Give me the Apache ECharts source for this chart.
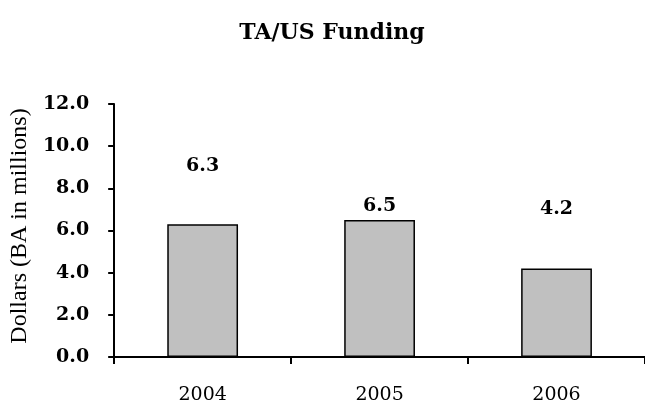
<!DOCTYPE html>
<html>
<head>
<meta charset="utf-8">
<script src="https://cdn.jsdelivr.net/npm/echarts@6/dist/echarts.min.js"></script>
<style>
    html, body { margin: 0; padding: 0; background: #fff; }
    #chart { width: 645px; height: 407px; }
</style>
</head>
<body>
<div id="chart"></div>
<script>
    // data
    var years = ['2004', '2005', '2006'];
    var funding = [6.3, 6.5, 4.2];
    // how far each value label sits above its bar (px)
    var labelGaps = [49, 4, 50];

    var chart = echarts.init(document.getElementById('chart'));

    var barData = funding.map(function (v, i) {
        return { value: v, label: { distance: labelGaps[i] } };
    });

    chart.setOption({
        animation: false,
        backgroundColor: '#fff',
        title: {
            text: 'TA/US Funding',
            left: 327,
            top: 17,
            textAlign: 'center',
            textStyle: {
                fontFamily: 'DejaVu Serif',
                fontWeight: 'bold',
                fontSize: 22,
                color: '#000'
            }
        },
        // the plot runs a little past the right edge, as in the original
        grid: { left: 113, right: -8, top: 104, bottom: 50 },
        xAxis: {
            type: 'category',
            data: years,
            axisLine: { lineStyle: { color: '#000', width: 2 } },
            axisTick: { show: true, length: 7, lineStyle: { color: '#000', width: 2 } },
            axisLabel: {
                margin: 29,
                color: '#000',
                fontFamily: 'DejaVu Serif',
                fontSize: 19
            }
        },
        yAxis: {
            type: 'value',
            min: 0,
            max: 12,
            interval: 2,
            name: 'Dollars (BA in millions)',
            nameLocation: 'middle',
            nameGap: 80,
            nameTextStyle: {
                fontFamily: 'Liberation Serif',
                fontSize: 24,
                color: '#000',
                padding: [0, 0, 0, 9]
            },
            axisLine: { show: true, lineStyle: { color: '#000', width: 2 } },
            axisTick: { show: true, length: 6, lineStyle: { color: '#000', width: 2 } },
            splitLine: { show: false },
            axisLabel: {
                margin: 25,
                color: '#000',
                fontFamily: 'DejaVu Serif',
                fontWeight: 'bold',
                fontSize: 19,
                formatter: function (v) { return v.toFixed(1); }
            }
        },
        series: [{
            type: 'bar',
            data: barData,
            barWidth: '40%',
            itemStyle: { color: '#c0c0c0', borderColor: '#000', borderWidth: 1.5 },
            label: {
                show: true,
                position: 'top',
                color: '#000',
                fontFamily: 'DejaVu Serif',
                fontWeight: 'bold',
                fontSize: 19,
                formatter: function (p) { return p.value.toFixed(1); }
            }
        }]
    });
</script>
</body>
</html>
